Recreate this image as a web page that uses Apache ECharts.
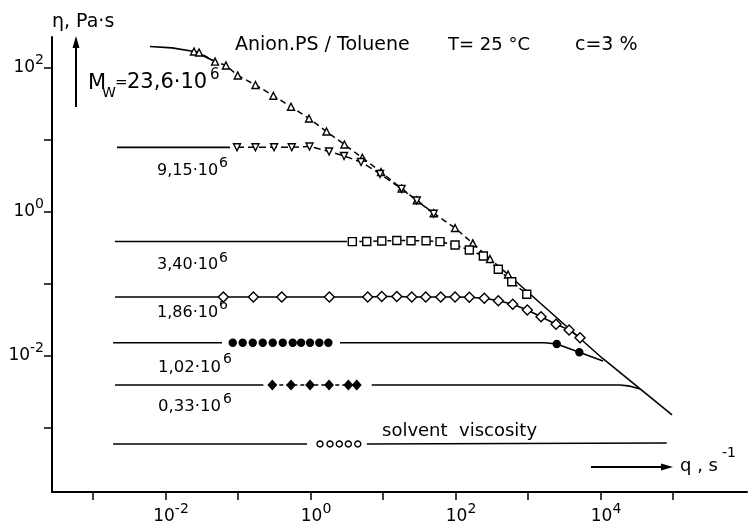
<!DOCTYPE html>
<html><head><meta charset="utf-8">
<script src="https://cdn.jsdelivr.net/npm/echarts@6/dist/echarts.min.js"></script>
<style>html,body{margin:0;padding:0;background:#fff}#c{width:750px;height:523px}</style>
</head><body><div id="c"></div>
<script>
// ---- data (q in s^-1, eta in Pa·s) ----
// Mw = 23.6e6 (up triangles)
const q236Line = [6.1e-3, 1.23e-2, 2.47e-2, 4.52e-2];
const eta236Line = [199, 190, 169.5, 127];
const q236 = [2.47e-2, 2.90e-2, 4.82e-2, 6.82e-2, 9.9e-2, 0.174, 0.307, 0.538, 0.953, 1.66, 2.93, 5.18, 9.38, 18.0, 29.2, 50.0, 98.4, 173, 299, 530];
const eta236 = [169.5, 164, 122.3, 108.4, 78.7, 58.1, 41.2, 28.9, 19.9, 13.1, 8.66, 5.66, 3.59, 2.12, 1.454, 0.959, 0.600, 0.367, 0.222, 0.1355];
// limiting envelope
const qEnv = [530, 1.05e4, 9.69e4];
const etaEnv = [0.1355, 9.38e-3, 1.52e-3];
// Mw = 9.15e6 (down triangles)
const q915Line = [2.14e-3, 7.76e-2];
const eta915Line = [7.9, 7.9];
const q915 = [9.68e-2, 0.174, 0.314, 0.551, 0.969, 1.80, 2.90, 4.97, 9.10, 18.0, 29.2, 50.0];
const eta915 = [7.92, 7.92, 7.92, 7.92, 8.12, 6.92, 6.00, 4.95, 3.37, 2.09, 1.445, 0.944];
// Mw = 3.40e6 (squares)
const q340Line = [2.01e-3, 3.19];
const eta340Line = [0.389, 0.389];
const q340 = [3.77, 5.96, 9.60, 15.5, 24.3, 39.2, 61.1, 98.4, 155, 242, 389, 596, 960];
const eta340 = [0.388, 0.389, 0.396, 0.402, 0.399, 0.399, 0.388, 0.348, 0.297, 0.245, 0.160, 0.1076, 0.0719];
// Mw = 1.86e6 (open diamonds)
const q186Line = [2.01e-3, 5.65e-2];
const eta186Line = [0.066, 0.066];
const q186 = [0.0627, 0.1626, 0.401, 1.816, 6.15, 9.60, 15.5, 24.9, 38.8, 62.5, 98.4, 155, 249, 389, 615, 977, 1511, 2432, 3680, 5210];
const eta186 = [0.066, 0.066, 0.066, 0.066, 0.066, 0.067, 0.067, 0.066, 0.066, 0.066, 0.066, 0.0654, 0.0633, 0.0586, 0.0522, 0.0435, 0.0351, 0.0276, 0.0230, 0.01796];
// Mw = 1.02e6 (filled circles)
const q102LineA = [1.89e-3, 6.02e-2];
const eta102LineA = [0.0153, 0.0153];
const q102 = [0.0845, 0.116, 0.1596, 0.219, 0.301, 0.414, 0.568, 0.740, 0.984, 1.32, 1.76];
const eta102 = [0.0153, 0.0153, 0.0153, 0.0153, 0.0153, 0.0153, 0.0153, 0.0153, 0.0153, 0.0153, 0.0153];
const q102LineB = [2.55, 1714, 2489, 5100, 1.08e4];
const eta102LineB = [0.0153, 0.0153, 0.01468, 0.01125, 0.00853];
const q102b = [2489, 5100];
const eta102b = [0.01468, 0.01125];
// Mw = 0.33e6 (filled diamonds)
const q033LineA = [2.01e-3, 0.2234];
const eta033LineA = [0.00395, 0.00395];
const q033 = [0.297, 0.538, 0.984, 1.80, 3.32, 4.34];
const eta033 = [0.00395, 0.00395, 0.00395, 0.00395, 0.00395, 0.00395];
const q033LineB = [6.98, 1.86e4, 2.55e4, 3.51e4];
const eta033LineB = [0.00395, 0.00395, 0.00381, 0.00348];
// solvent viscosity (small open circles)
const qSolvLineA = [1.89e-3, 0.895];
const etaSolvLineA = [6.0e-4, 6.0e-4];
const qSolv = [1.352, 1.857, 2.496, 3.32, 4.48];
const etaSolv = [6.0e-4, 6.0e-4, 6.0e-4, 6.0e-4, 6.0e-4];
const qSolvLineB = [5.96, 8.19e4];
const etaSolvLineB = [6.0e-4, 6.2e-4];
// axis decades (exponents)
const xTickExps = [-3, -2, -1, 0, 1, 2, 3, 4, 5];
const xLabelExps = [-2, 0, 2, 4];
const yTickExps = [-3, -2, -1, 0, 1, 2];
const yLabelExps = [-2, 0, 2];

const FONT = '"DejaVu Sans", sans-serif';
const K = '#000';
function pts(q, eta) { return q.map((v, i) => [Math.log10(v), Math.log10(eta[i])]); }
function lineS(q, eta, dash) {
  return { type: 'line', data: pts(q, eta), symbol: 'none', silent: true, z: 2,
    lineStyle: { color: K, width: 1.6, type: dash || 'solid' }, emphasis: { disabled: true } };
}
function markS(q, eta, opt) {
  return { type: opt.dash === null ? 'scatter' : 'line', data: pts(q, eta), symbol: opt.symbol,
    symbolSize: opt.size, symbolRotate: opt.rotate || 0, showSymbol: true, showAllSymbol: true, silent: true, z: 3,
    lineStyle: { color: K, width: 1.5, type: opt.dash || 'solid' },
    itemStyle: { color: opt.filled ? K : '#fff', borderColor: K, borderWidth: 1.4, opacity: 1 },
    emphasis: { disabled: true } };
}
const rich = {
  b: { fontSize: 17, fontFamily: FONT, color: K, lineHeight: 30 },
  s: { fontSize: 14, fontFamily: FONT, color: K, lineHeight: 14, verticalAlign: 'top' }
};
const fmt = v => '{b|10}{s|' + String(v) + '}';

const series = [
  lineS(q236Line, eta236Line),
  markS(q236, eta236, { symbol: 'triangle', size: 7, dash: [6, 4] }),
  lineS(qEnv, etaEnv),
  lineS(q915Line, eta915Line),
  markS(q915, eta915, { symbol: 'triangle', size: 7, rotate: 180, dash: [7, 4] }),
  lineS(q340Line, eta340Line),
  markS(q340, eta340, { symbol: 'rect', size: 8, dash: [4, 3] }),
  lineS(q186Line, eta186Line),
  markS(q186, eta186, { symbol: 'diamond', size: [10, 10], dash: 'solid' }),
  lineS(q102LineA, eta102LineA),
  markS(q102, eta102, { symbol: 'circle', size: 7, filled: true, dash: null }),
  lineS(q102LineB, eta102LineB),
  markS(q102b, eta102b, { symbol: 'circle', size: 7, filled: true, dash: null }),
  lineS(q033LineA, eta033LineA),
  markS(q033, eta033, { symbol: 'diamond', size: [8, 9], filled: true, dash: [4, 3] }),
  lineS(q033LineB, eta033LineB),
  lineS(qSolvLineA, etaSolvLineA),
  markS(qSolv, etaSolv, { symbol: 'circle', size: 6, dash: null }),
  lineS(qSolvLineB, etaSolvLineB)
];

function txt(x, y, text, size) {
  return { type: 'text', x: x, y: y, silent: true,
    style: { text: text, font: size + 'px ' + FONT, fill: K, align: 'left', verticalAlign: 'middle' } };
}
const graphic = [
  txt(52, 22, 'η, Pa·s', 19),
  txt(88, 84, 'M', 21),
  txt(102, 93, 'W', 14),
  txt(115, 83, '=', 15),
  txt(127, 83, '23,6·10', 21),
  txt(210, 75, '6', 15),
  txt(157, 170.5, '9,15·10', 16), txt(219, 163, '6', 14),
  txt(157, 265, '3,40·10', 16), txt(219, 258, '6', 14),
  txt(157, 312.5, '1,86·10', 16), txt(219, 305, '6', 14),
  txt(158, 368, '1,02·10', 16.5), txt(223, 359, '6', 14),
  txt(158, 406.5, '0,33·10', 16.5), txt(223, 399, '6', 14),
  txt(235, 45, 'Anion.PS / Toluene', 19),
  txt(448, 45, 'T= 25 °C', 18),
  txt(575, 45, 'c=3 %', 19),
  txt(382, 431, 'solvent  viscosity', 18),
  txt(680, 466, 'q , s', 18),
  txt(722, 453, '-1', 14),
  { type: 'line', silent: true, shape: { x1: 76, y1: 107, x2: 76, y2: 46 }, style: { stroke: K, lineWidth: 2 } },
  { type: 'polygon', silent: true, shape: { points: [[76, 36], [72.5, 48], [79.5, 48]] }, style: { fill: K } },
  { type: 'line', silent: true, shape: { x1: 591, y1: 467, x2: 663, y2: 467 }, style: { stroke: K, lineWidth: 2 } },
  { type: 'polygon', silent: true, shape: { points: [[673, 467], [661, 463.5], [661, 470.5]] }, style: { fill: K } }
];

const chart = echarts.init(document.getElementById('c'), null, { renderer: 'canvas' });
chart.setOption({
  animation: false,
  backgroundColor: '#fff',
  grid: { left: 52, right: 3, top: 37, bottom: 31, containLabel: false, outerBoundsMode: 'none' },
  xAxis: {
    type: 'value', min: -3.566, max: 6.02,
    axisLine: { onZero: false, lineStyle: { color: K, width: 2 } },
    axisTick: { customValues: xTickExps, length: 8, lineStyle: { color: K, width: 1.5 } },
    axisLabel: { customValues: xLabelExps, formatter: fmt, rich: rich, margin: 10, padding: [0, 0, 0, 11] },
    splitLine: { show: false }
  },
  yAxis: {
    type: 'value', min: -3.889, max: 2.43,
    axisLine: { onZero: false, lineStyle: { color: K, width: 2 } },
    axisTick: { customValues: yTickExps, length: 8, lineStyle: { color: K, width: 1.5 } },
    axisLabel: { customValues: yLabelExps, formatter: fmt, rich: rich, margin: 8 },
    splitLine: { show: false }
  },
  series: series,
  graphic: graphic
});
</script>
</body></html>
